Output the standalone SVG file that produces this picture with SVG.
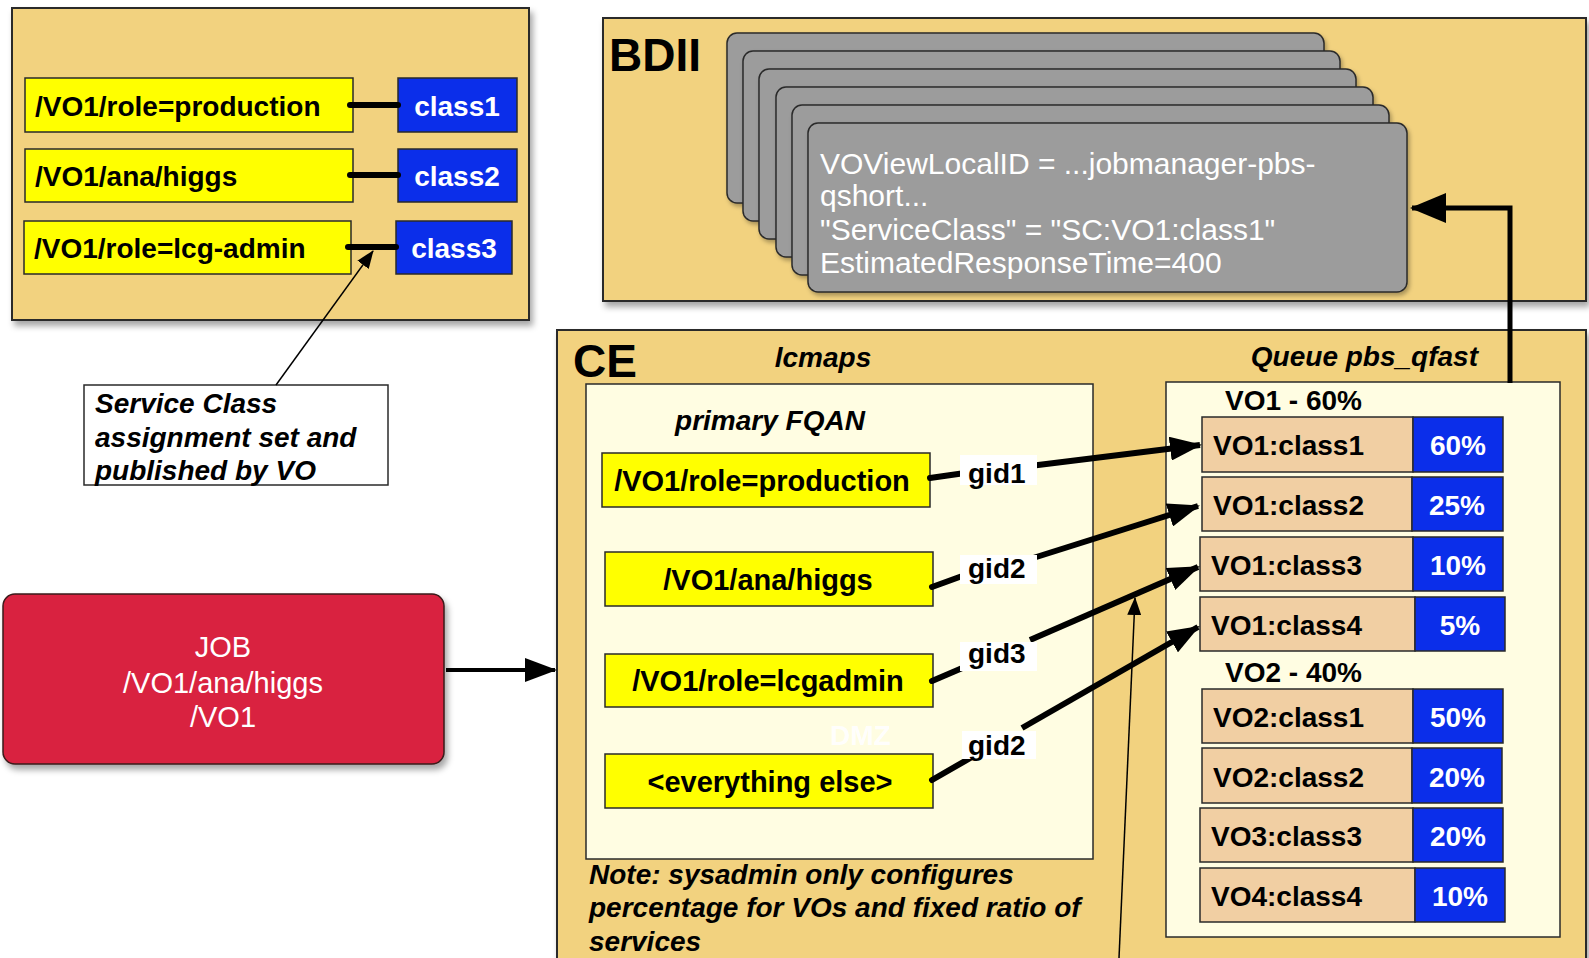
<svg xmlns="http://www.w3.org/2000/svg" width="1589" height="958" viewBox="0 0 1589 958">
<defs>
<filter id="sh" x="-5%" y="-5%" width="115%" height="120%">
<feDropShadow dx="3" dy="5" stdDeviation="3" flood-color="#000" flood-opacity="0.35"/>
</filter>
<filter id="sh2" x="-5%" y="-5%" width="115%" height="120%">
<feDropShadow dx="2" dy="3" stdDeviation="2" flood-color="#000" flood-opacity="0.3"/>
</filter>
<marker id="ah" markerUnits="userSpaceOnUse" markerWidth="32" markerHeight="24" refX="30" refY="12" orient="auto" viewBox="0 0 32 24">
<path d="M0,0 L32,12 L0,24 z" fill="#000"/>
</marker>
<marker id="ahBig" markerUnits="userSpaceOnUse" markerWidth="36" markerHeight="30" refX="34" refY="15" orient="auto" viewBox="0 0 36 30">
<path d="M0,0 L36,15 L0,30 z" fill="#000"/>
</marker>
<marker id="ahSmall" markerUnits="userSpaceOnUse" markerWidth="18" markerHeight="14" refX="17" refY="7" orient="auto" viewBox="0 0 18 14">
<path d="M0,0 L18,7 L0,14 z" fill="#000"/>
</marker>
</defs>
<style>
.panel{fill:#f2d27f;stroke:#2a2a2a;stroke-width:2}
.yel{fill:#ffff00;stroke:#2a2a2a;stroke-width:1.5}
.blue{fill:#0b2eea;stroke:#2a2a2a;stroke-width:1.5}
.tan{fill:#f1cfa3;stroke:#2a2a2a;stroke-width:1.5}
.cream{fill:#fffde2;stroke:#2a2a2a;stroke-width:1.5}
.card{fill:#9c9c9c;stroke:#2a2a2a;stroke-width:1.5}
text{font-family:"Liberation Sans",Arial,Helvetica,sans-serif;font-weight:bold;font-size:28px;fill:#000}
.it{font-style:italic}
.w{fill:#fff}
.reg{font-weight:normal}
.mid{text-anchor:middle}
.big{font-size:46px}
.f29{font-size:29px}
.card-t{font-size:30px;font-weight:normal}
.thick{stroke:#000;stroke-width:6;fill:none;stroke-linecap:round}
.conn{stroke:#000;stroke-width:6;fill:none}
.thin{stroke:#000;stroke-width:1.5;fill:none}
.lbl{fill:#fff}
</style>

<!-- VO panel (top-left) -->
<g id="vo-panel">
<rect class="panel" x="12" y="8" width="517" height="312" filter="url(#sh)"/>
</g>
<g id="vo-fqan-production">
<rect class="yel" x="25" y="78" width="328" height="54"/>
<text x="35" y="116">/VO1/role=production</text>
</g>
<g id="vo-fqan-higgs">
<rect class="yel" x="25" y="149" width="328" height="53"/>
<text x="35" y="186">/VO1/ana/higgs</text>
</g>
<g id="vo-fqan-lcgadmin">
<rect class="yel" x="24" y="221" width="327" height="53"/>
<text x="34" y="258">/VO1/role=lcg-admin</text>
</g>
<g id="vo-class1">
<rect class="blue" x="398" y="78" width="119" height="54"/>
<text class="w mid" x="457" y="116">class1</text>
</g>
<g id="vo-class2">
<rect class="blue" x="398" y="149" width="119" height="53"/>
<text class="w mid" x="457" y="186">class2</text>
</g>
<g id="vo-class3">
<rect class="blue" x="396" y="221" width="116" height="53"/>
<text class="w mid" x="454" y="258">class3</text>
</g>

<!-- Annotation -->
<g id="annotation">
<rect x="84" y="385" width="304" height="100" fill="#fff" stroke="#2a2a2a" stroke-width="1.5"/>
<text class="it" x="95" y="413">Service Class</text>
<text class="it" x="95" y="447">assignment set and</text>
<text class="it" x="95" y="480">published by VO</text>
</g>

<!-- JOB -->
<g id="job">
<rect x="3" y="594" width="441" height="170" rx="12" fill="#d9233f" stroke="#3a1a1a" stroke-width="1.5" filter="url(#sh)"/>
<text class="w mid reg f29" x="223" y="657">JOB</text>
<text class="w mid reg f29" x="223" y="693">/VO1/ana/higgs</text>
<text class="w mid reg f29" x="223" y="727">/VO1</text>
</g>

<!-- BDII -->
<g id="bdii">
<rect class="panel" x="603" y="18" width="983" height="283" filter="url(#sh)"/>
<text class="big" x="609" y="71">BDII</text>
</g>
<g id="bdii-cards">
<rect class="card" x="727" y="33" width="597" height="170" rx="10" filter="url(#sh2)"/>
<rect class="card" x="743" y="51" width="597" height="170" rx="10" filter="url(#sh2)"/>
<rect class="card" x="759" y="69" width="597" height="170" rx="10" filter="url(#sh2)"/>
<rect class="card" x="776" y="87" width="597" height="170" rx="10" filter="url(#sh2)"/>
<rect class="card" x="792" y="105" width="597" height="170" rx="10" filter="url(#sh2)"/>
</g>
<g id="bdii-front-card">
<rect class="card" x="808" y="123" width="599" height="169" rx="10" filter="url(#sh2)"/>
<text class="w card-t" x="820" y="174">VOViewLocalID = ...jobmanager-pbs-</text>
<text class="w card-t" x="820" y="206">qshort...</text>
<text class="w card-t" x="820" y="240">"ServiceClass" = "SC:VO1:class1"</text>
<text class="w card-t" x="820" y="273">EstimatedResponseTime=400</text>
</g>

<!-- CE -->
<g id="ce">
<rect class="panel" x="557" y="330" width="1029" height="660" filter="url(#sh)"/>
<text class="big" x="573" y="377">CE</text>
<text class="it mid" x="823" y="367">lcmaps</text>
<text class="it" x="1478" y="366" text-anchor="end">Queue pbs_qfast</text>
<text class="it" x="589" y="884">Note: sysadmin only configures</text>
<text class="it" x="589" y="917">percentage for VOs and fixed ratio of</text>
<text class="it" x="589" y="951">services</text>
</g>
<g id="lcmaps">
<rect class="cream" x="586" y="384" width="507" height="475"/>
<text class="it mid" x="770" y="430">primary FQAN</text>
<text class="w mid" x="860" y="745" opacity="0.9" font-size="26">DMZ</text>
</g>
<g id="ce-fqan-production">
<rect class="yel" x="602" y="453" width="328" height="54"/>
<text class="mid f29" x="762" y="491">/VO1/role=production</text>
</g>
<g id="ce-fqan-higgs">
<rect class="yel" x="605" y="552" width="328" height="54"/>
<text class="mid f29" x="768" y="590">/VO1/ana/higgs</text>
</g>
<g id="ce-fqan-lcgadmin">
<rect class="yel" x="605" y="654" width="328" height="53"/>
<text class="mid f29" x="768" y="691">/VO1/role=lcgadmin</text>
</g>
<g id="ce-fqan-else">
<rect class="yel" x="605" y="754" width="328" height="54"/>
<text class="mid f29" x="770" y="792">&lt;everything else&gt;</text>
</g>

<!-- Queue -->
<g id="queue">
<rect class="cream" x="1166" y="382" width="394" height="555"/>
<text x="1225" y="410">VO1 - 60%</text>
<text x="1225" y="682">VO2 - 40%</text>
</g>
<g id="q-vo1-class1">
<rect class="tan" x="1202" y="417" width="211" height="55"/>
<rect class="blue" x="1413" y="417" width="90" height="55"/>
<text x="1213" y="455">VO1:class1</text>
<text class="w mid" x="1458" y="455">60%</text>
</g>
<g id="q-vo1-class2">
<rect class="tan" x="1202" y="477" width="210" height="54"/>
<rect class="blue" x="1412" y="477" width="91" height="54"/>
<text x="1213" y="515">VO1:class2</text>
<text class="w mid" x="1457" y="515">25%</text>
</g>
<g id="q-vo1-class3">
<rect class="tan" x="1200" y="537" width="213" height="54"/>
<rect class="blue" x="1413" y="537" width="90" height="54"/>
<text x="1211" y="575">VO1:class3</text>
<text class="w mid" x="1458" y="575">10%</text>
</g>
<g id="q-vo1-class4">
<rect class="tan" x="1200" y="597" width="215" height="54"/>
<rect class="blue" x="1415" y="597" width="90" height="54"/>
<text x="1211" y="635">VO1:class4</text>
<text class="w mid" x="1460" y="635">5%</text>
</g>
<g id="q-vo2-class1">
<rect class="tan" x="1202" y="689" width="211" height="54"/>
<rect class="blue" x="1413" y="689" width="90" height="54"/>
<text x="1213" y="727">VO2:class1</text>
<text class="w mid" x="1458" y="727">50%</text>
</g>
<g id="q-vo2-class2">
<rect class="tan" x="1202" y="748" width="210" height="55"/>
<rect class="blue" x="1412" y="748" width="90" height="55"/>
<text x="1213" y="787">VO2:class2</text>
<text class="w mid" x="1457" y="787">20%</text>
</g>
<g id="q-vo3-class3">
<rect class="tan" x="1200" y="808" width="213" height="54"/>
<rect class="blue" x="1413" y="808" width="90" height="54"/>
<text x="1211" y="846">VO3:class3</text>
<text class="w mid" x="1458" y="846">20%</text>
</g>
<g id="q-vo4-class4">
<rect class="tan" x="1200" y="868" width="215" height="54"/>
<rect class="blue" x="1415" y="868" width="90" height="54"/>
<text x="1211" y="906">VO4:class4</text>
<text class="w mid" x="1460" y="906">10%</text>
</g>

<!-- Connectors -->
<g id="connectors">
<line class="thick" x1="350" y1="105" x2="398" y2="105"/>
<line class="thick" x1="350" y1="175" x2="398" y2="175"/>
<line class="thick" x1="348" y1="247" x2="396" y2="247"/>
<line class="thin" x1="276" y1="385" x2="373" y2="251" marker-end="url(#ahSmall)"/>
<line x1="446" y1="670" x2="555" y2="670" stroke="#000" stroke-width="4" marker-end="url(#ah)"/>
<polyline points="1510,383 1510,208 1412,208" stroke="#000" stroke-width="5" fill="none" marker-end="url(#ahBig)"/>
<line class="thick" x1="930" y1="478" x2="965" y2="473"/>
<line class="thick" x1="932" y1="587" x2="965" y2="575"/>
<line class="thick" x1="932" y1="681" x2="967" y2="666"/>
<line class="thick" x1="932" y1="780" x2="972" y2="757"/>
<line class="conn" x1="1030" y1="466" x2="1200" y2="445" marker-end="url(#ah)"/>
<line class="conn" x1="1030" y1="559" x2="1198" y2="506" marker-end="url(#ah)"/>
<line class="conn" x1="1030" y1="640" x2="1198" y2="567" marker-end="url(#ah)"/>
<line class="conn" x1="1022" y1="728" x2="1198" y2="627" marker-end="url(#ah)"/>
<line class="thin" x1="1119" y1="958" x2="1135" y2="598" marker-end="url(#ahSmall)"/>
</g>

<!-- gid labels -->
<g id="gid1">
<rect class="lbl" x="960" y="455" width="77" height="30"/>
<text x="968" y="483" font-size="27">gid1</text>
</g>
<g id="gid2-a">
<rect class="lbl" x="960" y="555" width="77" height="29"/>
<text x="968" y="578" font-size="27">gid2</text>
</g>
<g id="gid3">
<rect class="lbl" x="960" y="642" width="77" height="29"/>
<text x="968" y="663" font-size="27">gid3</text>
</g>
<g id="gid2-b">
<rect class="lbl" x="962" y="731" width="74" height="28"/>
<text x="968" y="755" font-size="27">gid2</text>
</g>
</svg>
